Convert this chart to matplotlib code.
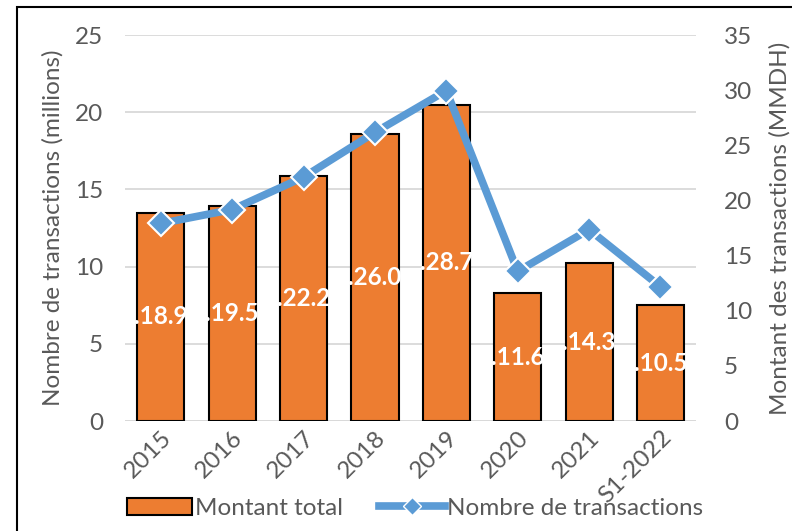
import matplotlib
matplotlib.use("Agg")
import matplotlib.pyplot as plt
from matplotlib.lines import Line2D
from matplotlib.patches import Patch, Rectangle
import numpy as np

categories = ["2015", "2016", "2017", "2018", "2019", "2020", "2021", "S1-2022"]
montant_total = [18.9, 19.5, 22.2, 26.0, 28.7, 11.6, 14.3, 10.5]          # MMDH (right axis)
nombre_transactions = [12.8, 13.7, 15.8, 18.7, 21.4, 9.7, 12.4, 8.7]      # millions (left axis)
left_ticks = [0, 5, 10, 15, 20, 25]
right_ticks = [0, 5, 10, 15, 20, 25, 30, 35]

plt.rcParams['font.family'] = ['Lato', 'DejaVu Sans']
grey = "#595959"
orange = "#ED7D31"
blue = "#5B9BD5"
fs = 17.5

fig = plt.figure(figsize=(7.92, 5.31), dpi=100)
ax = fig.add_axes([0.158, 0.207, 0.721, 0.727])
ax2 = ax.twinx()
ax3 = ax.twinx()

x = np.arange(len(categories))

# grid on left axis
ax.set_ylim(0, 25)
ax.set_yticks(left_ticks)
ax.yaxis.grid(True, color="#D9D9D9", linewidth=1.3)
ax.set_axisbelow(True)
ax.set_xlim(-0.5, len(categories) - 0.5)
for s in ax.spines.values():
    s.set_visible(False)
ax.tick_params(axis='y', length=0, labelsize=fs, labelcolor=grey, pad=16)
ax.tick_params(axis='x', length=0, labelsize=fs, labelcolor=grey, pad=4)
ax.set_xticks(x)
ax.set_xticklabels(categories, rotation=45, ha='right', rotation_mode='anchor')
ax.set_ylabel("Nombre de transactions (millions)", fontsize=fs, color=grey, labelpad=8)

# bars on right axis
ax2.set_ylim(0, 35)
ax2.set_yticks(right_ticks)
bars = ax2.bar(x, montant_total, width=0.66, color=orange, edgecolor="black", linewidth=1.5, zorder=2)
for xi, v in zip(x, montant_total):
    ax2.text(xi, v / 2, f".{v:.1f}", color="white", fontsize=fs, fontweight="bold",
             ha="center", va="center")
for s in ax2.spines.values():
    s.set_visible(False)
ax2.tick_params(axis='y', length=0, labelsize=fs, labelcolor=grey, pad=20)
ax2.set_ylabel("Montant des transactions (MMDH)", fontsize=fs, color=grey, labelpad=12)

# line on left scale, drawn on top
ax3.set_ylim(0, 25)
ax3.plot(x, nombre_transactions, color=blue, linewidth=5.5, marker="D", markersize=13,
         markerfacecolor=blue, markeredgecolor="white", markeredgewidth=1.5, solid_joinstyle="miter")
ax3.set_yticks([])
for s in ax3.spines.values():
    s.set_visible(False)

# baseline
ax.axhline(0, color="#D9D9D9", linewidth=1.3)

handles = [Patch(facecolor=orange, edgecolor="black", linewidth=1.5),
           Line2D([0], [0], color=blue, linewidth=5.5, marker="D", markersize=9,
                  markerfacecolor=blue, markeredgecolor="white")]
fig.legend(handles, ["Montant total", "Nombre de transactions"], loc="center",
           bbox_to_anchor=(0.524, 0.043), ncol=2, frameon=False, fontsize=fs,
           labelcolor=grey, handlelength=2.7, handletextpad=0.1, columnspacing=1.5)

fig.add_artist(Rectangle((0.021, -0.1), 1.2, 1.087, transform=fig.transFigure,
                         fill=False, edgecolor="black", linewidth=1.5))

fig.savefig("out.png", dpi=100)
